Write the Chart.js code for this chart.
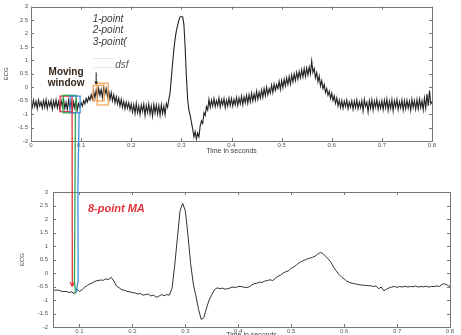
<!DOCTYPE html>
<html>
<head>
<meta charset="utf-8">
<script src="https://cdn.jsdelivr.net/npm/chart.js@4"></script>
<style>
  html, body { margin: 0; padding: 0; background: #fff; overflow: hidden; }
  #wrap { position: relative; width: 461px; height: 335px; overflow: hidden; }
  #wrap canvas { position: absolute; left: 0; top: 0; }
</style>
</head>
<body>
<div id="wrap">
  <canvas id="maChart" width="461" height="345"></canvas>
  <canvas id="rawChart" width="461" height="345"></canvas>
</div>
<script>
// raw ECG (top), sampled every 0.0025 s from 0 s
const rawStart = 0
const rawStep = 0.0025
const rawEcg = [
  -0.55,-0.75,-0.48,-0.72,-0.52,-0.80,-0.47,-0.70,-0.55,-0.78,-0.50,-0.74,-0.46,-0.79,-0.53,-0.71,-0.49,-0.82,-0.51,-0.73,
  -0.47,-0.76,-0.54,-0.81,-0.50,-0.72,-0.45,-0.79,-0.56,-0.84,-0.49,-0.75,-0.52,-0.86,-0.55,-0.78,-0.48,-0.83,-0.60,-0.74,
  -0.58,-0.70,-0.50,-0.62,-0.42,-0.55,-0.36,-0.48,-0.28,-0.45,-0.15,-0.40,-0.10,-0.35,-0.05,-0.30,-0.08,-0.38,0.00,-0.25,
  -0.05,-0.35,-0.12,-0.45,-0.20,-0.50,-0.28,-0.58,-0.35,-0.62,-0.40,-0.70,-0.45,-0.75,-0.52,-0.80,-0.55,-0.78,-0.58,-0.85,
  -0.62,-0.92,-0.65,-0.98,-0.60,-0.95,-0.70,-1.02,-0.66,-0.90,-0.63,-1.05,-0.68,-0.95,-0.62,-1.00,-0.70,-1.08,-0.64,-0.96,
  -0.66,-1.00,-0.68,-1.05,-0.65,-0.98,-0.70,-1.02,-0.60,-0.75,-0.45,-0.20,0.35,0.90,1.40,1.80,2.10,2.30,2.50,2.62,
  2.62,2.62,2.35,1.50,0.40,-0.45,-0.85,-1.05,-1.30,-1.55,-1.85,-1.65,-1.92,-1.70,-1.85,-1.45,-1.25,-1.35,-0.95,-1.05,
  -0.72,-0.85,-0.45,-0.75,-0.48,-0.70,-0.42,-0.72,-0.50,-0.68,-0.40,-0.74,-0.46,-0.66,-0.42,-0.76,-0.48,-0.70,-0.40,-0.68,
  -0.42,-0.70,-0.45,-0.66,-0.38,-0.68,-0.40,-0.62,-0.34,-0.65,-0.36,-0.58,-0.30,-0.60,-0.28,-0.55,-0.22,-0.52,-0.25,-0.48,
  -0.15,-0.45,-0.18,-0.40,-0.10,-0.38,-0.05,-0.32,0.00,-0.28,-0.05,-0.22,0.08,-0.20,0.12,-0.12,0.10,-0.05,0.22,-0.08,
  0.25,-0.02,0.30,0.05,0.35,0.10,0.40,0.12,0.45,0.20,0.50,0.25,0.55,0.30,0.58,0.35,0.65,0.38,0.70,0.40,
  0.72,0.45,0.75,0.50,0.98,0.55,0.70,0.35,0.55,0.20,0.42,0.05,0.25,-0.05,0.10,-0.20,-0.05,-0.30,-0.15,-0.42,
  -0.22,-0.50,-0.32,-0.60,-0.40,-0.70,-0.48,-0.75,-0.50,-0.78,-0.52,-0.72,-0.48,-0.80,-0.55,-0.74,-0.50,-0.82,-0.52,-0.76,
  -0.48,-0.80,-0.55,-0.76,-0.50,-0.88,-0.45,-0.72,-0.56,-0.92,-0.50,-0.78,-0.47,-0.85,-0.52,-0.74,-0.46,-0.82,-0.55,-0.78,
  -0.50,-0.84,-0.48,-0.76,-0.44,-0.86,-0.52,-0.79,-0.46,-0.88,-0.50,-0.74,-0.45,-0.83,-0.54,-0.77,-0.47,-0.85,-0.50,-0.80,
  -0.48,-0.78,-0.52,-0.86,-0.45,-0.75,-0.50,-0.82,-0.46,-0.80,-0.44,-0.76,-0.50,-0.84,-0.40,-0.78,-0.25,-0.70,-0.12,-0.62,
  -0.55
]

// 8-point moving average (bottom), sampled every 0.005 s from 0.05 s
const maStart = 0.05
const maStep = 0.005
const maEcg = [
  -0.62,-0.64,-0.63,-0.67,-0.69,-0.68,-0.72,-0.70,-0.76,-0.60,
  -0.68,-0.62,-0.52,-0.46,-0.40,-0.36,-0.30,-0.28,-0.26,-0.27,
  -0.22,-0.24,-0.16,-0.30,-0.48,-0.55,-0.62,-0.64,-0.68,-0.70,
  -0.72,-0.74,-0.78,-0.76,-0.82,-0.80,-0.78,-0.85,-0.82,-0.90,
  -0.86,-0.80,-0.84,-0.80,-0.82,-0.55,0.30,1.30,2.30,2.58,
  2.30,1.40,0.35,-0.40,-0.85,-1.35,-1.72,-1.65,-1.30,-1.00,
  -0.80,-0.62,-0.55,-0.58,-0.56,-0.60,-0.58,-0.55,-0.52,-0.54,
  -0.50,-0.50,-0.52,-0.54,-0.52,-0.45,-0.40,-0.38,-0.34,-0.35,
  -0.30,-0.28,-0.25,-0.28,-0.20,-0.12,-0.08,0.00,0.05,0.08,
  0.18,0.22,0.30,0.38,0.43,0.47,0.52,0.55,0.58,0.62,
  0.70,0.76,0.72,0.62,0.52,0.40,0.22,0.08,-0.05,-0.15,
  -0.22,-0.30,-0.35,-0.38,-0.40,-0.42,-0.44,-0.45,-0.46,-0.47,
  -0.47,-0.50,-0.48,-0.58,-0.52,-0.66,-0.60,-0.55,-0.52,-0.50,
  -0.53,-0.50,-0.52,-0.49,-0.52,-0.50,-0.51,-0.48,-0.52,-0.50,
  -0.51,-0.49,-0.52,-0.50,-0.50,-0.48,-0.50,-0.42,-0.40,-0.45,
  -0.50
]

const rawXTicks = [0, 0.1, 0.2, 0.3, 0.4, 0.5, 0.6, 0.7, 0.8]
const maXTicks = [0.1, 0.2, 0.3, 0.4, 0.5, 0.6, 0.7, 0.8]
const yTicks = [-2, -1.5, -1, -0.5, 0, 0.5, 1, 1.5, 2, 2.5, 3]

// annotation windows on the raw trace: [t0, t1, yTop, yBottom]
const windowColors = ['#e2333b', '#2ea84f', '#3f8fd8']
const windowBoxes = [[0.058, 0.082, -0.33, -0.91], [0.064, 0.090, -0.30, -0.95], [0.078, 0.098, -0.33, -0.95]]
// connector paths: top point (raw chart) then points on the MA chart
const connectors = [
  [[0.082, -0.91], [0.0865, -0.50]],
  [[0.0885, -0.95], [0.0915, 3.05], [0.0905, -0.30], [0.093, -0.76]],
  [[0.096, -0.95], [0.097, 3.05], [0.0975, -0.30], [0.094, -0.72]]
]

const FONT = 'Liberation Sans'
const toXY = (arr, t0, dt) => arr.map((v, i) => ({ x: +(t0 + i * dt).toFixed(4), y: v }))

function frameAndTicks(chart) {
  const { ctx, chartArea: a, scales } = chart
  ctx.save()
  ctx.strokeStyle = '#777'
  ctx.lineWidth = 1
  ctx.strokeRect(Math.round(a.left) + 0.5, Math.round(a.top) + 0.5, Math.round(a.right - a.left), Math.round(a.bottom - a.top))
  ctx.beginPath()
  scales.x.ticks.forEach(t => {
    const px = Math.round(scales.x.getPixelForValue(t.value)) + 0.5
    ctx.moveTo(px, a.bottom); ctx.lineTo(px, a.bottom - 3)
    ctx.moveTo(px, a.top); ctx.lineTo(px, a.top + 3)
  })
  scales.y.ticks.forEach(t => {
    const py = Math.round(scales.y.getPixelForValue(t.value)) + 0.5
    ctx.moveTo(a.left, py); ctx.lineTo(a.left + 3, py)
    ctx.moveTo(a.right, py); ctx.lineTo(a.right - 3, py)
  })
  ctx.stroke()
  ctx.restore()
}

function arrowHead(ctx, x0, y0, x1, y1, size) {
  const ang = Math.atan2(y1 - y0, x1 - x0)
  ctx.beginPath()
  ctx.moveTo(x1, y1)
  ctx.lineTo(x1 - size * Math.cos(ang - 0.45), y1 - size * Math.sin(ang - 0.45))
  ctx.moveTo(x1, y1)
  ctx.lineTo(x1 - size * Math.cos(ang + 0.45), y1 - size * Math.sin(ang + 0.45))
  ctx.stroke()
}

function baseOptions(xMin, xTicks, layoutPadding, yWidth, xHeight, yTitlePad, xTitlePad, yTickPad) {
  return {
    responsive: false,
    animation: false,
    events: [],
    layout: { padding: layoutPadding },
    plugins: { legend: { display: false }, tooltip: { enabled: false } },
    scales: {
      x: {
        type: 'linear', min: xMin, max: 0.8,
        afterBuildTicks: s => { s.ticks = xTicks.map(v => ({ value: v })) },
        afterFit: s => { s.height = xHeight },
        grid: { drawOnChartArea: false, drawTicks: false },
        border: { display: false },
        ticks: { color: '#555', font: { family: FONT, size: 6 }, padding: 1, maxRotation: 0, autoSkip: false,
                 callback: v => String(+v.toFixed(1)) },
        title: { display: true, text: 'Time in seconds', color: '#444', font: { family: FONT, size: 7 },
                 padding: { top: 0, bottom: xTitlePad } }
      },
      y: {
        min: -2, max: 3,
        afterBuildTicks: s => { s.ticks = yTicks.map(v => ({ value: v })) },
        afterFit: s => { s.width = yWidth },
        grid: { drawOnChartArea: false, drawTicks: false },
        border: { display: false },
        ticks: { color: '#555', font: { family: FONT, size: 6 }, padding: yTickPad, autoSkip: false,
                 callback: v => String(v) },
        title: { display: true, text: 'ECG', color: '#444', font: { family: FONT, size: 6 },
                 padding: { top: yTitlePad, bottom: 0 } }
      }
    }
  }
}

// bottom chart: 8-point moving average
const maOpts = baseOptions(maStart, maXTicks, { left: 15, right: 11, top: 192, bottom: 6 }, 38, 12, 4, 0, 5)
const maChart = new Chart(document.getElementById('maChart'), {
  type: 'line',
  data: { datasets: [{ data: toXY(maEcg, maStart, maStep), borderColor: '#333', borderWidth: 1,
                       pointRadius: 0, tension: 0 }] },
  options: maOpts,
  plugins: [{
    id: 'maDeco',
    afterDraw(chart) {
      frameAndTicks(chart)
      const { ctx, scales } = chart
      ctx.save()
      ctx.fillStyle = '#e2333b'
      ctx.font = 'italic bold 11px ' + FONT
      ctx.textBaseline = 'middle'
      ctx.fillText('8-point MA', scales.x.getPixelForValue(0.116), scales.y.getPixelForValue(2.39))
      ctx.restore()
    }
  }]
})

// top chart: raw noisy ECG with moving window annotations
const rawOpts = baseOptions(rawStart, rawXTicks, { left: 0, right: 29, top: 4, bottom: 190 }, 31, 14, 3, 0, 3)
const rawChart = new Chart(document.getElementById('rawChart'), {
  type: 'line',
  data: { datasets: [{ data: toXY(rawEcg, rawStart, rawStep), borderColor: '#222', borderWidth: 1.1,
                       pointRadius: 0, tension: 0 }] },
  options: rawOpts,
  plugins: [{
    id: 'rawDeco',
    afterDraw(chart) {
      frameAndTicks(chart)
      const { ctx, scales } = chart
      const X = v => scales.x.getPixelForValue(v)
      const Y = v => scales.y.getPixelForValue(v)
      const mx = maChart.scales.x, my = maChart.scales.y
      ctx.save()

      // moving windows
      ctx.lineWidth = 1.3
      windowBoxes.forEach((b, i) => {
        ctx.strokeStyle = windowColors[i]
        ctx.strokeRect(X(b[0]), Y(b[2]), X(b[1]) - X(b[0]), Y(b[3]) - Y(b[2]))
      })

      // connectors down to the MA trace
      connectors.forEach((path, i) => {
        ctx.strokeStyle = windowColors[i]
        ctx.lineWidth = 1.3
        const pts = path.map((p, k) => k === 0 ? [X(p[0]), Y(p[1])] : [mx.getPixelForValue(p[0]), my.getPixelForValue(p[1])])
        ctx.beginPath()
        ctx.moveTo(pts[0][0], pts[0][1])
        pts.slice(1).forEach(p => ctx.lineTo(p[0], p[1]))
        ctx.stroke()
        if (i === 0) {
          const n = pts.length
          arrowHead(ctx, pts[n - 2][0], pts[n - 2][1], pts[n - 1][0], pts[n - 1][1], 5)
        }
      })

      // orange window further along
      ctx.strokeStyle = '#f0a04a'
      ctx.lineWidth = 1.2
      ctx.strokeRect(X(0.124), Y(0.07), X(0.146) - X(0.124), Y(-0.51) - Y(0.07))
      ctx.strokeRect(X(0.132), Y(0.15), X(0.154) - X(0.132), Y(-0.66) - Y(0.15))

      // arrow to orange window
      ctx.strokeStyle = '#111'
      ctx.lineWidth = 1
      ctx.beginPath()
      ctx.moveTo(X(0.130), Y(0.55)); ctx.lineTo(X(0.130), Y(0.12))
      ctx.stroke()
      arrowHead(ctx, X(0.130), Y(0.55), X(0.130), Y(0.12), 3)

      // text
      ctx.textBaseline = 'middle'
      ctx.fillStyle = '#33261c'
      ctx.font = 'bold 10px ' + FONT
      ctx.textAlign = 'center'
      ctx.fillText('Moving', X(0.070), Y(0.55))
      ctx.fillText('window', X(0.070), Y(0.15))

      ctx.textAlign = 'left'
      ctx.fillStyle = '#3a3a3a'
      ctx.font = 'italic 10px ' + FONT
      ctx.fillText('1-point', X(0.123), Y(2.52))
      ctx.fillText('2-point', X(0.123), Y(2.12))
      ctx.fillText('3-point(', X(0.123), Y(1.68))
      ctx.fillStyle = '#aaa'
      ctx.font = '8px ' + FONT
      ctx.fillText('..........', X(0.123), Y(1.13))
      ctx.fillText('..........', X(0.123), Y(0.80))
      ctx.fillStyle = '#555'
      ctx.font = 'italic 10px ' + FONT
      ctx.fillText('dsf', X(0.168), Y(0.82))
      ctx.restore()
    }
  }]
})
</script>
</body>
</html>
